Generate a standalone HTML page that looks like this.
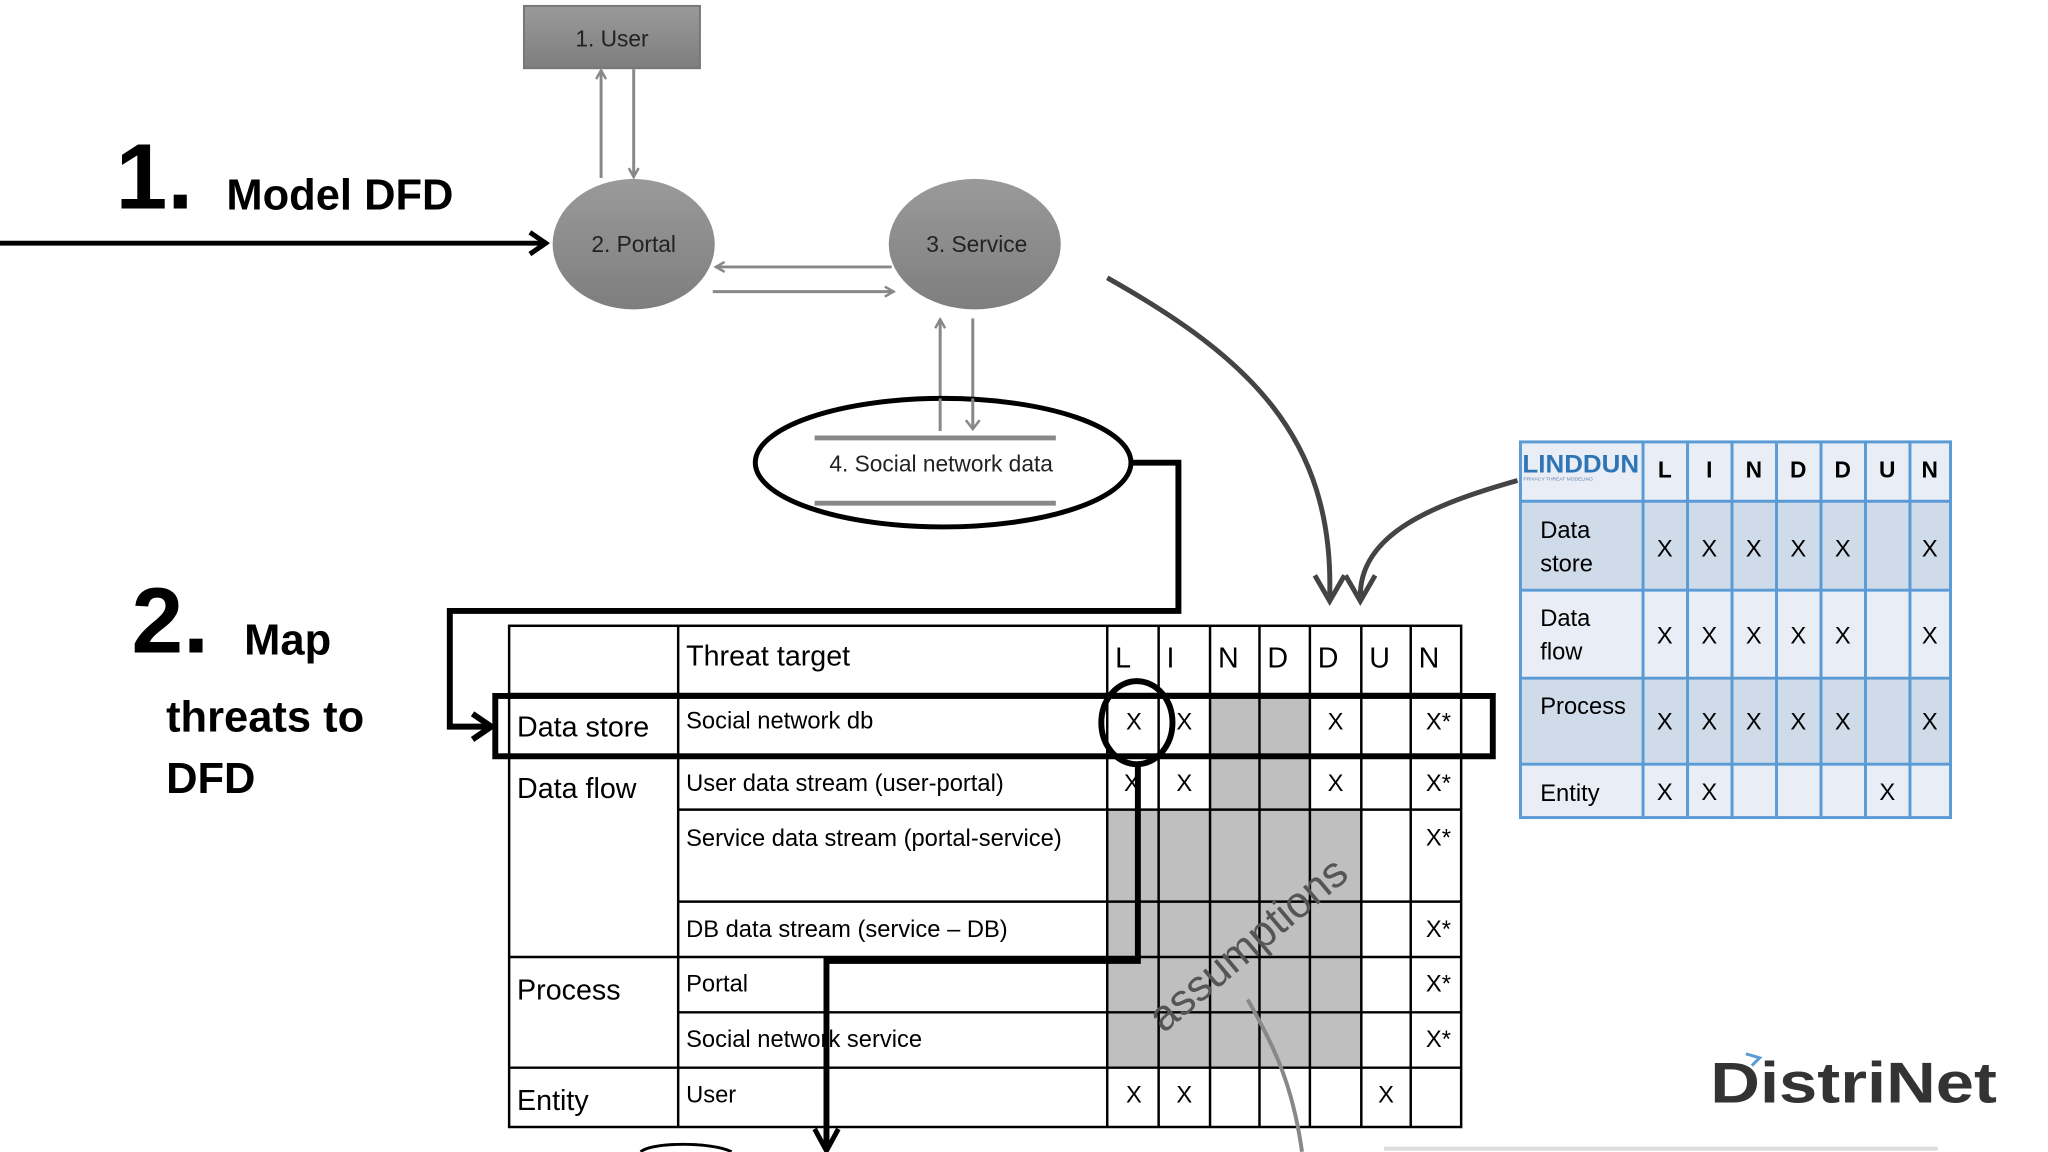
<!DOCTYPE html>
<html><head><meta charset="utf-8"><style>
html,body{margin:0;padding:0;background:#fff;}
svg{display:block;}
text{font-family:"Liberation Sans",sans-serif;}
</style></head><body>
<svg width="2048" height="1152" viewBox="0 0 2048 1152" xmlns="http://www.w3.org/2000/svg">
<defs>
<marker id="ga" markerWidth="12" markerHeight="12" refX="10" refY="6" orient="auto" markerUnits="userSpaceOnUse"><path d="M1,1 L10,6 L1,11" fill="none" stroke="#888" stroke-width="2.5"/></marker>
<marker id="ba" markerWidth="22" markerHeight="26" refX="18" refY="13" orient="auto" markerUnits="userSpaceOnUse"><path d="M2,2 L18,13 L2,24" fill="none" stroke="#000" stroke-width="5"/></marker>
<linearGradient id="gg" x1="0" y1="0" x2="0" y2="1"><stop offset="0" stop-color="#9a9a9a"/><stop offset="1" stop-color="#7e7e7e"/></linearGradient>
</defs>
<g transform="scale(0.9886)">
<!-- DFD -->
<rect x="530" y="6" width="178" height="63" fill="url(#gg)" stroke="#777" stroke-width="2"/>
<text x="619" y="47" font-size="23" text-anchor="middle" fill="#222">1. User</text>
<ellipse cx="641" cy="247" rx="82" ry="66" fill="url(#gg)"/>
<text x="641" y="255" font-size="23" text-anchor="middle" fill="#222">2. Portal</text>
<ellipse cx="986" cy="247" rx="87" ry="66" fill="url(#gg)"/>
<text x="988" y="255" font-size="23" text-anchor="middle" fill="#222">3. Service</text>

<g stroke="#888" stroke-width="3" fill="none">
<line x1="608" y1="180" x2="608" y2="71" marker-end="url(#ga)"/>
<line x1="641" y1="70" x2="641" y2="179" marker-end="url(#ga)"/>
<line x1="902" y1="270" x2="724" y2="270" marker-end="url(#ga)"/>
<line x1="721" y1="295" x2="904" y2="295" marker-end="url(#ga)"/>
<line x1="951" y1="436" x2="951" y2="323" marker-end="url(#ga)"/>
<line x1="984" y1="322" x2="984" y2="433" marker-end="url(#ga)"/>
</g>

<ellipse cx="954" cy="468" rx="190" ry="65" fill="#fff" stroke="#000" stroke-width="5"/>
<line x1="824" y1="443" x2="1068" y2="443" stroke="#888" stroke-width="5"/>
<line x1="824" y1="509" x2="1068" y2="509" stroke="#888" stroke-width="5"/>
<line x1="951" y1="403" x2="951" y2="436" stroke="#888" stroke-width="3"/>
<line x1="984" y1="403" x2="984" y2="434" stroke="#888" stroke-width="3"/>
<path d="M977,425 L984,434 L991,425" fill="none" stroke="#888" stroke-width="2.5"/>
<text x="952" y="477" font-size="23" text-anchor="middle" fill="#222">4. Social network data</text>

<line x1="0" y1="246" x2="552" y2="246" stroke="#000" stroke-width="5" marker-end="url(#ba)"/>

<text x="117" y="211" font-size="94" font-weight="bold" fill="#000">1.</text>
<text x="229" y="212" font-size="44" font-weight="bold" fill="#000">Model DFD</text>
<text x="133" y="660" font-size="94" font-weight="bold" fill="#000">2.</text>
<text x="247" y="662" font-size="44" font-weight="bold" fill="#000">Map</text>
<text x="168" y="740" font-size="44" font-weight="bold" fill="#000">threats to</text>
<text x="168" y="802" font-size="44" font-weight="bold" fill="#000">DFD</text>

<!-- curved arrows -->
<path d="M1120,281 C1260,360 1350,440 1345,604" fill="none" stroke="#444" stroke-width="5"/>
<path d="M1330,582 L1345,608 L1360,582" fill="none" stroke="#444" stroke-width="5"/>
<path d="M1535,486 C1450,510 1375,540 1376,604" fill="none" stroke="#444" stroke-width="5"/>
<path d="M1361,582 L1376,608 L1391,582" fill="none" stroke="#444" stroke-width="5"/>

<!-- main table -->
<g>
<rect x="1224" y="702" width="101" height="378" fill="#bfbfbf"/>
<rect x="1120" y="819" width="257" height="261" fill="#bfbfbf"/>
<g stroke="#000" stroke-width="2.5" fill="none">
<rect x="515" y="633" width="963" height="507"/>
<line x1="686" y1="633" x2="686" y2="1140"/>
<line x1="1120" y1="633" x2="1120" y2="1140"/>
<line x1="1172" y1="633" x2="1172" y2="1140"/>
<line x1="1224" y1="633" x2="1224" y2="1140"/>
<line x1="1274" y1="633" x2="1274" y2="1140"/>
<line x1="1325" y1="633" x2="1325" y2="1140"/>
<line x1="1377" y1="633" x2="1377" y2="1140"/>
<line x1="1427" y1="633" x2="1427" y2="1140"/>
<line x1="515" y1="702" x2="1478" y2="702"/>
<line x1="515" y1="764" x2="1478" y2="764"/>
<line x1="686" y1="819" x2="1478" y2="819"/>
<line x1="686" y1="912" x2="1478" y2="912"/>
<line x1="515" y1="968" x2="1478" y2="968"/>
<line x1="686" y1="1024" x2="1478" y2="1024"/>
<line x1="515" y1="1080" x2="1478" y2="1080"/>
</g>
<g font-size="29" fill="#000">
<text x="694" y="673">Threat target</text>
<text x="1128" y="675">L</text><text x="1180" y="675">I</text><text x="1232" y="675">N</text><text x="1282" y="675">D</text><text x="1333" y="675">D</text><text x="1385" y="675">U</text><text x="1435" y="675">N</text>
<text x="523" y="745">Data store</text>
<text x="523" y="807">Data flow</text>
<text x="523" y="1011">Process</text>
<text x="523" y="1123">Entity</text>
</g>
<g font-size="24" fill="#000">
<text x="694" y="737">Social network db</text>
<text x="694" y="800">User data stream (user-portal)</text>
<text x="694" y="856">Service data stream (portal-service)</text>
<text x="694" y="948">DB data stream (service – DB)</text>
<text x="694" y="1003">Portal</text>
<text x="694" y="1059">Social network service</text>
<text x="694" y="1115">User</text>
</g>
<g font-size="24" fill="#000" text-anchor="middle">
<text x="1147" y="738">X</text><text x="1198" y="738">X</text><text x="1351" y="738">X</text><text x="1455" y="738">X*</text>
<text x="1145" y="800">X</text><text x="1198" y="800">X</text><text x="1351" y="800">X</text><text x="1455" y="800">X*</text>
<text x="1455" y="855">X*</text><text x="1455" y="948">X*</text><text x="1455" y="1003">X*</text><text x="1455" y="1059">X*</text>
<text x="1147" y="1115">X</text><text x="1198" y="1115">X</text><text x="1402" y="1115">X</text>
</g>
<text x="1262" y="970" font-size="44" fill="#555" text-anchor="middle" transform="rotate(-40 1262 955)">assumptions</text>
<path d="M1262,1011 C1290,1060 1308,1100 1317,1165" fill="none" stroke="#888" stroke-width="4"/>
</g>

<!-- highlight + circle + connectors -->
<rect x="501" y="704" width="1009" height="61" fill="none" stroke="#000" stroke-width="6"/>
<ellipse cx="1150" cy="731" rx="36" ry="42" fill="none" stroke="#000" stroke-width="6"/>
<path d="M1151,773 L1151,972 L836,972 L836,1162" fill="none" stroke="#000" stroke-width="6"/>
<path d="M824,1142 L836,1164 L848,1142" fill="none" stroke="#000" stroke-width="5"/>
<path d="M1144,468 L1192,468 L1192,618 L455,618 L455,735 L494,735" fill="none" stroke="#000" stroke-width="6"/>
<path d="M478,722 L497,735 L478,748" fill="none" stroke="#000" stroke-width="6"/>
<path d="M648,1165 C660,1155 720,1155 740,1165" fill="none" stroke="#000" stroke-width="3"/>

<!-- LINDDUN table -->
<g>
<rect x="1538" y="447" width="435" height="380" fill="#e9edf5"/>
<rect x="1538" y="507" width="435" height="90" fill="#d0dbea"/>
<rect x="1538" y="686" width="435" height="87" fill="#d0dbea"/>
<g stroke="#5b9bd5" stroke-width="3" fill="none">
<rect x="1538" y="447" width="435" height="380"/>
<line x1="1662" y1="447" x2="1662" y2="827"/><line x1="1707" y1="447" x2="1707" y2="827"/>
<line x1="1752" y1="447" x2="1752" y2="827"/><line x1="1797" y1="447" x2="1797" y2="827"/>
<line x1="1842" y1="447" x2="1842" y2="827"/><line x1="1887" y1="447" x2="1887" y2="827"/>
<line x1="1932" y1="447" x2="1932" y2="827"/>
<line x1="1538" y1="507" x2="1973" y2="507"/><line x1="1538" y1="597" x2="1973" y2="597"/>
<line x1="1538" y1="686" x2="1973" y2="686"/><line x1="1538" y1="773" x2="1973" y2="773"/>
</g>
<text x="1540" y="478" font-size="25" font-weight="bold" fill="#2e75b6" textLength="118" lengthAdjust="spacingAndGlyphs">LINDDUN</text>
<text x="1541" y="486" font-size="5" fill="#5b7fa8">PRIVACY THREAT MODELING</text>
<g font-size="23" font-weight="bold" text-anchor="middle" fill="#000">
<text x="1684" y="483">L</text><text x="1729" y="483">I</text><text x="1774" y="483">N</text><text x="1819" y="483">D</text><text x="1864" y="483">D</text><text x="1909" y="483">U</text><text x="1952" y="483">N</text>
</g>
<g font-size="24" fill="#000">
<text x="1558" y="544">Data</text><text x="1558" y="578">store</text>
<text x="1558" y="633">Data</text><text x="1558" y="667">flow</text>
<text x="1558" y="722">Process</text>
<text x="1558" y="810">Entity</text>
</g>
<g font-size="24" text-anchor="middle" fill="#000">
<text x="1684" y="563">X</text><text x="1729" y="563">X</text><text x="1774" y="563">X</text><text x="1819" y="563">X</text><text x="1864" y="563">X</text><text x="1952" y="563">X</text>
<text x="1684" y="651">X</text><text x="1729" y="651">X</text><text x="1774" y="651">X</text><text x="1819" y="651">X</text><text x="1864" y="651">X</text><text x="1952" y="651">X</text>
<text x="1684" y="738">X</text><text x="1729" y="738">X</text><text x="1774" y="738">X</text><text x="1819" y="738">X</text><text x="1864" y="738">X</text><text x="1952" y="738">X</text>
<text x="1684" y="809">X</text><text x="1729" y="809">X</text><text x="1909" y="809">X</text>
</g>
</g>

<!-- DistriNet logo -->
<text x="1730" y="1115" font-size="58" font-weight="bold" fill="#333" textLength="290" lengthAdjust="spacingAndGlyphs">DistriNet</text>
<path d="M1766,1066 L1780,1070 L1772,1078" fill="none" stroke="#5b9bd5" stroke-width="3"/>
<line x1="1400" y1="1162" x2="1960" y2="1162" stroke="#ddd" stroke-width="4"/>
</g>
</svg>
</body></html>
